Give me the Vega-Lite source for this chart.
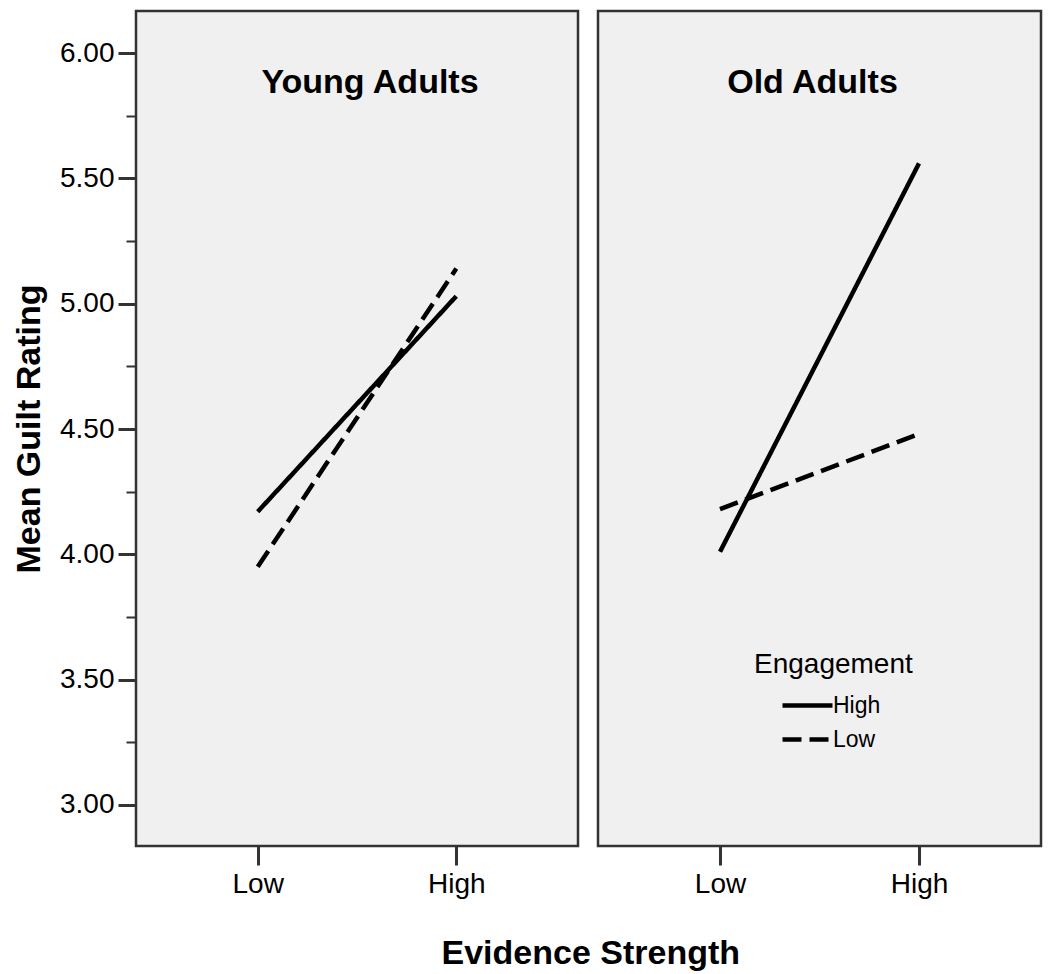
{
  "$schema": "https://vega.github.io/schema/vega-lite/v6.json",
  "padding": {"left": 11, "top": 9, "right": 5, "bottom": 5},
  "background": "white",
  "data": {
    "values": [
      {"group": "Young Adults", "evidence": "Low", "engagement": "High", "value": 4.17},
      {"group": "Young Adults", "evidence": "High", "engagement": "High", "value": 5.03},
      {"group": "Young Adults", "evidence": "Low", "engagement": "Low", "value": 3.95},
      {"group": "Young Adults", "evidence": "High", "engagement": "Low", "value": 5.14},
      {"group": "Old Adults", "evidence": "Low", "engagement": "High", "value": 4.01},
      {"group": "Old Adults", "evidence": "High", "engagement": "High", "value": 5.56},
      {"group": "Old Adults", "evidence": "Low", "engagement": "Low", "value": 4.18},
      {"group": "Old Adults", "evidence": "High", "engagement": "Low", "value": 4.48}
    ]
  },
  "config": {
    "font": "Liberation Sans",
    "view": {"fill": "#f0f0f0", "stroke": "#333333", "strokeWidth": 2.5},
    "axis": {
      "grid": false,
      "domain": false,
      "labelFont": "Liberation Sans",
      "labelFontSize": 28,
      "labelColor": "#000000",
      "tickColor": "#333333",
      "titleFont": "Liberation Sans",
      "titleColor": "#000000"
    }
  },
  "title": {
    "text": "Evidence Strength",
    "orient": "bottom",
    "anchor": "middle",
    "frame": "bounds",
    "dx": 64,
    "fontSize": 34,
    "fontWeight": "bold",
    "font": "Liberation Sans",
    "color": "#000000",
    "offset": 38
  },
  "spacing": 16,
  "resolve": {"scale": {"strokeDash": "independent"}, "legend": {"strokeDash": "independent"}},
  "hconcat": [
    {
      "width": 442,
      "height": 835,
      "transform": [{"filter": "datum.group == 'Young Adults'"}],
      "title": {"text": "Young Adults", "offset": -116, "baseline": "alphabetic", "anchor": "middle", "fontSize": 34, "fontWeight": "bold", "color": "#000000", "dx": 13},
      "mark": {"type": "line", "color": "black", "strokeWidth": 4.5},
      "encoding": {
        "x": {
          "field": "evidence", "type": "ordinal",
          "scale": {"type": "point", "domain": ["Low", "High"], "padding": 0.613},
          "axis": {"title": null, "labelAngle": 0, "tickSize": 19, "tickWidth": 3, "labelPadding": 5}
        },
        "y": {
          "field": "value", "type": "quantitative",
          "scale": {"domain": [2.836, 6.168], "nice": false, "zero": false},
          "axis": {
            "title": "Mean Guilt Rating",
            "titleFontSize": 34,
            "titleFontWeight": "bold",
            "titlePadding": 13,
            "values": [3, 3.25, 3.5, 3.75, 4, 4.25, 4.5, 4.75, 5, 5.25, 5.5, 5.75, 6],
            "labelExpr": "(datum.value * 2) % 1 == 0 ? format(datum.value, '.2f') : ''",
            "tickSize": {"condition": {"test": "(datum.value * 2) % 1 == 0", "value": 18}, "value": 10},
            "tickWidth": {"condition": {"test": "(datum.value * 2) % 1 == 0", "value": 3}, "value": 2},
            "labelFontSize": 28,
            "labelPadding": 4
          }
        },
        "strokeDash": {
          "field": "engagement", "type": "nominal",
          "scale": {"domain": ["High", "Low"], "range": [[1, 0], [19, 8]]},
          "legend": null
        }
      }
    },
    {
      "width": 443,
      "height": 835,
      "transform": [{"filter": "datum.group == 'Old Adults'"}],
      "title": {"text": "Old Adults", "offset": -116, "baseline": "alphabetic", "anchor": "middle", "fontSize": 34, "fontWeight": "bold", "color": "#000000", "dx": -7},
      "mark": {"type": "line", "color": "black", "strokeWidth": 4.5},
      "encoding": {
        "x": {
          "field": "evidence", "type": "ordinal",
          "scale": {"type": "point", "domain": ["Low", "High"], "padding": 0.613},
          "axis": {"title": null, "labelAngle": 0, "tickSize": 19, "tickWidth": 3, "labelPadding": 5}
        },
        "y": {
          "field": "value", "type": "quantitative",
          "scale": {"domain": [2.836, 6.168], "nice": false, "zero": false},
          "axis": null
        },
        "strokeDash": {
          "field": "engagement", "type": "nominal",
          "scale": {"domain": ["High", "Low"], "range": [[1, 0], [19, 8]]},
          "legend": {
            "orient": "none",
            "legendX": 156,
            "legendY": 640,
            "title": "Engagement",
            "titleFontSize": 28,
            "titleFontWeight": "normal",
            "titleColor": "#000000",
            "titleFont": "Liberation Sans",
            "titlePadding": 15,
            "labelFontSize": 23,
            "labelColor": "#000000",
            "labelFont": "Liberation Sans",
            "symbolType": "M-5,0H5",
            "symbolSize": 100,
            "symbolStrokeWidth": 4.5,
            "symbolStrokeColor": "black",
            "symbolFillColor": "transparent",
            "symbolOffset": 42,
            "labelOffset": 14,
            "rowPadding": 10,
            "padding": 0
          }
        }
      }
    }
  ]
}
